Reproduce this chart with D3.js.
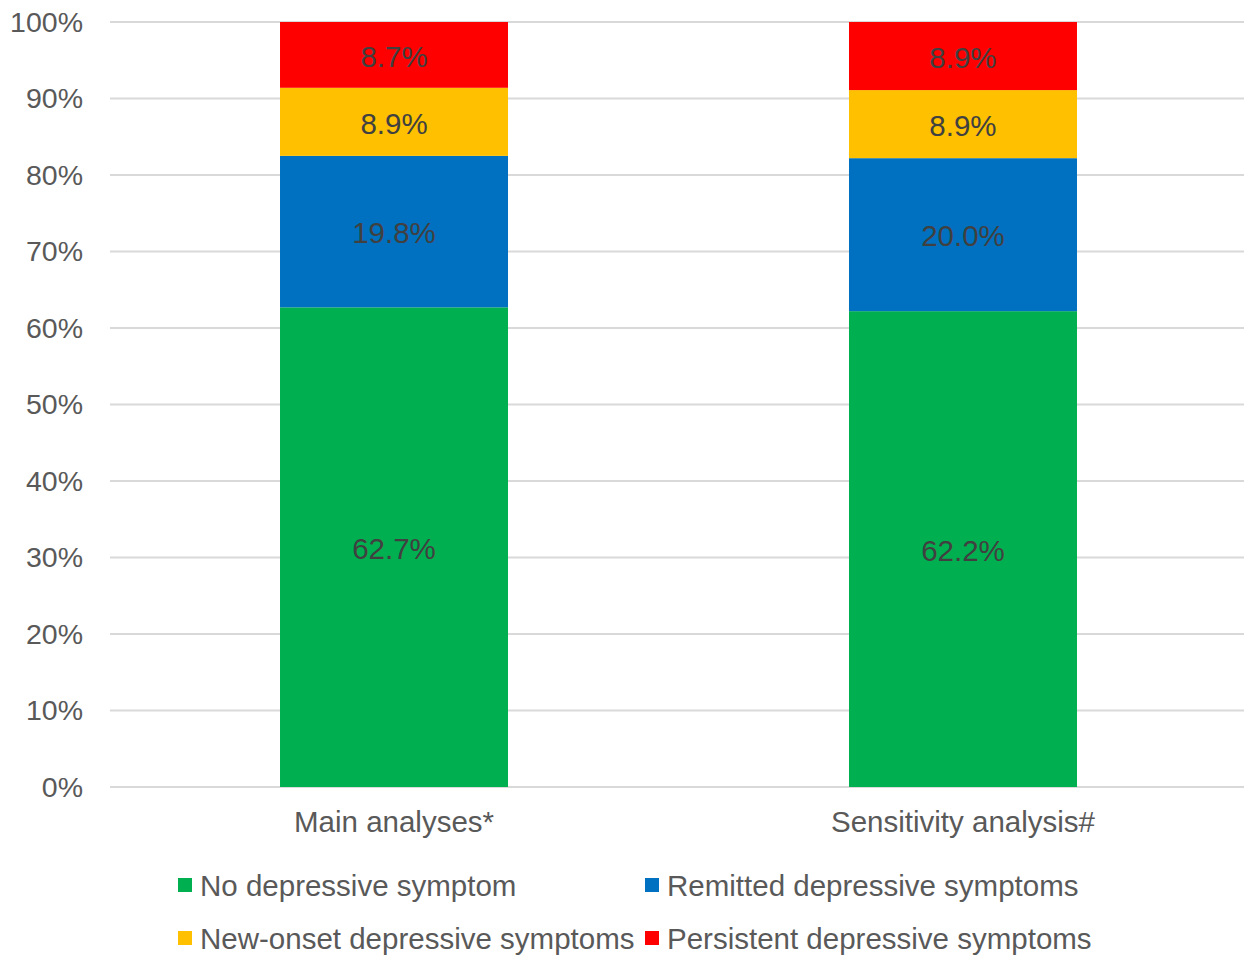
<!DOCTYPE html>
<html>
<head>
<meta charset="utf-8">
<script src="https://cdn.jsdelivr.net/npm/d3@7"></script>
<style>
  html, body { margin: 0; padding: 0; background: #fff; }
  svg { display: block; font-family: "Liberation Sans", Arial, sans-serif; }
</style>
</head>
<body>
<svg id="chart" width="1244" height="955"></svg>
<script>
// Groups shown on the x axis
const categories = ["Main analyses*", "Sensitivity analysis#"];
// Depressive-symptom trajectories (stacking order, bottom to top)
const seriesNames = [
  "No depressive symptom",
  "Remitted depressive symptoms",
  "New-onset depressive symptoms",
  "Persistent depressive symptoms"
];
const seriesColors = ["#00B050", "#0070C0", "#FFC000", "#FF0000"];
// Percentages per group, in the order of seriesNames
const noSymptom  = [62.7, 62.2];
const remitted   = [19.8, 20.0];
const newOnset   = [8.9, 8.9];
const persistent = [8.7, 8.9];
const yTicks = [0, 10, 20, 30, 40, 50, 60, 70, 80, 90, 100];

const rows = categories.map((c, i) => ({
  category: c,
  [seriesNames[0]]: noSymptom[i],
  [seriesNames[1]]: remitted[i],
  [seriesNames[2]]: newOnset[i],
  [seriesNames[3]]: persistent[i]
}));

const svg = d3.select("#chart");
const margin = { left: 110, top: 22, bottom: 168 };
const W = 1244, H = 955;

const x = d3.scaleBand()
  .domain(categories)
  .range([margin.left, 1247])
  .paddingInner(0.5993)
  .paddingOuter(0.2988);

const y = d3.scaleLinear()
  .domain([0, 100])
  .range([H - margin.bottom, margin.top]);

// Gridlines
svg.append("g")
  .selectAll("line")
  .data(yTicks)
  .join("line")
  .attr("x1", margin.left)
  .attr("x2", W)
  .attr("y1", d => y(d))
  .attr("y2", d => y(d))
  .attr("stroke", "#d9d9d9")
  .attr("stroke-width", 2);

// Y axis labels
const yAxis = d3.axisLeft(y).tickValues(yTicks).tickFormat(d => d + "%").tickSize(0).tickPadding(0);
const gy = svg.append("g").attr("transform", `translate(${83},0)`).call(yAxis);
gy.select(".domain").remove();
gy.selectAll("text")
  .attr("fill", "#595959")
  .style("font-size", "28.5px")
  .style("font-family", "'Liberation Sans', Arial, sans-serif");

// Stacked bars
const stack = d3.stack().keys(seriesNames);
const layers = stack(rows);

const layerG = svg.append("g")
  .selectAll("g")
  .data(layers)
  .join("g")
  .attr("fill", (d, i) => seriesColors[i]);

layerG.selectAll("rect")
  .data(d => d)
  .join("rect")
  .attr("x", d => x(d.data.category))
  .attr("width", x.bandwidth())
  .attr("y", d => y(Math.min(d[1], 100)))
  .attr("height", d => y(d[0]) - y(Math.min(d[1], 100)));

// Value labels centred in each segment
layerG.selectAll("text")
  .data(d => d.map(p => ({ p, key: d.key })))
  .join("text")
  .attr("x", d => x(d.p.data.category) + x.bandwidth() / 2)
  .attr("y", d => (y(d.p[0]) + y(Math.min(d.p[1], 100))) / 2)
  .attr("dy", "0.4em")
  .attr("text-anchor", "middle")
  .attr("fill", "#404040")
  .style("font-size", "29.5px")
  .text(d => d.p.data[d.key].toFixed(1) + "%");

// Category labels
const xAxis = d3.axisBottom(x).tickSize(0).tickPadding(0);
const gx = svg.append("g").attr("transform", `translate(0,${832})`).call(xAxis);
gx.select(".domain").remove();
gx.selectAll("text")
  .attr("dy", 0)
  .attr("fill", "#595959")
  .style("font-size", "29.5px")
  .style("font-family", "'Liberation Sans', Arial, sans-serif");

// Legend: two rows of two entries
const legendPos = [
  { x: 178, y: 885 },
  { x: 645, y: 885 },
  { x: 178, y: 938 },
  { x: 645, y: 938 }
];
const legendOrder = [0, 1, 2, 3];
const lg = svg.append("g")
  .selectAll("g")
  .data(legendOrder)
  .join("g")
  .attr("transform", (d, i) => `translate(${legendPos[i].x},${legendPos[i].y})`);

lg.append("rect")
  .attr("x", 0)
  .attr("y", -7)
  .attr("width", 14)
  .attr("height", 14)
  .attr("fill", d => seriesColors[d]);

lg.append("text")
  .attr("x", 22)
  .attr("y", 0)
  .attr("dy", "0.36em")
  .attr("fill", "#595959")
  .style("font-size", "29.5px")
  .text(d => seriesNames[d]);
</script>
</body>
</html>
